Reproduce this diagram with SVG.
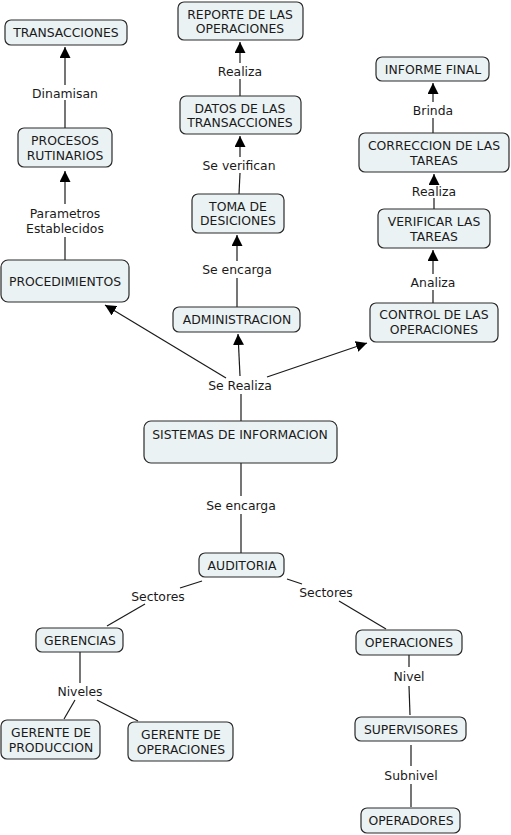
<svg xmlns="http://www.w3.org/2000/svg" width="511" height="835" viewBox="0 0 511 835">
<style>
.n rect{fill:#ebf2f4;stroke:#2a2a2a;stroke-width:1.2}
text{font-family:"DejaVu Sans",Verdana,sans-serif;font-size:12.4px;fill:#1a1a1a;text-anchor:middle;dominant-baseline:central}
.c line{stroke:#1a1a1a;stroke-width:1.2}
.a{marker-end:url(#ah)}
</style>
<defs>
<marker id="ah" markerUnits="userSpaceOnUse" markerWidth="11" markerHeight="11" viewBox="0 0 11 11" refX="11" refY="5.5" orient="auto">
<path d="M0,0 L11,5.5 L0,11 Z" fill="#000"/>
</marker>
</defs>
<rect width="511" height="835" fill="#fff"/>
<g class="c">
<line x1="65" y1="128" x2="65" y2="100"/>
<line class="a" x1="65" y1="85" x2="65" y2="47"/>
<line x1="65" y1="260" x2="65" y2="237"/>
<line class="a" x1="65" y1="204" x2="65" y2="171"/>
<line x1="240" y1="96" x2="240" y2="79"/>
<line class="a" x1="240" y1="63" x2="240" y2="42"/>
<line x1="239" y1="194" x2="240" y2="173"/>
<line class="a" x1="240" y1="157" x2="240" y2="136"/>
<line x1="237" y1="307" x2="237" y2="278"/>
<line class="a" x1="237" y1="261" x2="237" y2="235"/>
<line x1="241" y1="421" x2="241" y2="394"/>
<line class="a" x1="226" y1="378" x2="105" y2="305"/>
<line class="a" x1="240" y1="376" x2="238" y2="334"/>
<line class="a" x1="267" y1="377" x2="367" y2="343"/>
<line x1="433" y1="303" x2="433" y2="290"/>
<line class="a" x1="433" y1="274" x2="433" y2="250"/>
<line x1="434" y1="209" x2="434" y2="198"/>
<line class="a" x1="434" y1="184" x2="434" y2="174"/>
<line x1="433" y1="133" x2="433" y2="118"/>
<line class="a" x1="433" y1="102" x2="433" y2="83"/>
<line x1="241" y1="463" x2="241" y2="496"/>
<line x1="241" y1="514" x2="241" y2="553"/>
<line x1="202" y1="581" x2="180" y2="588"/>
<line x1="145" y1="604" x2="107" y2="626"/>
<line x1="287" y1="579" x2="302" y2="584"/>
<line x1="339" y1="601" x2="386" y2="629"/>
<line x1="80" y1="652" x2="80" y2="683"/>
<line x1="75" y1="700" x2="64" y2="719"/>
<line x1="97" y1="700" x2="138" y2="721"/>
<line x1="409" y1="655" x2="409" y2="667"/>
<line x1="409" y1="686" x2="410" y2="715"/>
<line x1="411" y1="745" x2="411" y2="766"/>
<line x1="411" y1="784" x2="411" y2="807"/>
</g>
<g id="labels">
<text x="65" y="93">Dinamisan</text>
<text x="65" y="213">Parametros</text>
<text x="65" y="228">Establecidos</text>
<text x="240" y="71">Realiza</text>
<text x="239" y="165">Se verifican</text>
<text x="237" y="269">Se encarga</text>
<text x="240" y="385">Se Realiza</text>
<text x="241" y="505">Se encarga</text>
<text x="433" y="110">Brinda</text>
<text x="434" y="191">Realiza</text>
<text x="433" y="282">Analiza</text>
<text x="158" y="596">Sectores</text>
<text x="326" y="592">Sectores</text>
<text x="80" y="691">Niveles</text>
<text x="409" y="676">Nivel</text>
<text x="411" y="775">Subnivel</text>
</g>
<g id="transacciones" class="n"><rect x="5" y="20" width="122" height="25" rx="6"/><text x="66" y="32.5">TRANSACCIONES</text></g>
<g id="procesos" class="n"><rect x="18" y="128" width="94" height="39" rx="6"/><text x="65" y="140">PROCESOS</text><text x="65" y="155">RUTINARIOS</text></g>
<g id="procedimientos" class="n"><rect x="1" y="260" width="128" height="42" rx="7"/><text x="65" y="281">PROCEDIMIENTOS</text></g>
<g id="reporte" class="n"><rect x="178" y="2" width="125" height="38" rx="6"/><text x="240" y="14">REPORTE DE LAS</text><text x="240" y="28">OPERACIONES</text></g>
<g id="datos" class="n"><rect x="180" y="96" width="121" height="38" rx="6"/><text x="240" y="108">DATOS DE LAS</text><text x="240" y="122">TRANSACCIONES</text></g>
<g id="toma" class="n"><rect x="192" y="194" width="92" height="39" rx="6"/><text x="238" y="206">TOMA DE</text><text x="238" y="220">DESICIONES</text></g>
<g id="administracion" class="n"><rect x="173" y="307" width="127" height="25" rx="6"/><text x="237" y="319.5">ADMINISTRACION</text></g>
<g id="sistemas" class="n"><rect x="144" y="421" width="193" height="42" rx="7"/><text x="240" y="434">SISTEMAS DE INFORMACION</text></g>
<g id="informe" class="n"><rect x="376" y="57" width="113" height="24" rx="6"/><text x="433" y="69">INFORME FINAL</text></g>
<g id="correccion" class="n"><rect x="359" y="133" width="150" height="39" rx="6"/><text x="434" y="145">CORRECCION DE LAS</text><text x="434" y="160">TAREAS</text></g>
<g id="verificar" class="n"><rect x="378" y="209" width="112" height="39" rx="6"/><text x="434" y="221">VERIFICAR LAS</text><text x="434" y="236">TAREAS</text></g>
<g id="control" class="n"><rect x="370" y="303" width="128" height="39" rx="6"/><text x="434" y="314">CONTROL DE LAS</text><text x="434" y="329">OPERACIONES</text></g>
<g id="auditoria" class="n"><rect x="199" y="553" width="85" height="24" rx="6"/><text x="242" y="565">AUDITORIA</text></g>
<g id="gerencias" class="n"><rect x="36" y="628" width="87" height="24" rx="6"/><text x="80" y="640">GERENCIAS</text></g>
<g id="operaciones" class="n"><rect x="356" y="630" width="106" height="25" rx="6"/><text x="409" y="642.5">OPERACIONES</text></g>
<g id="gerente-produccion" class="n"><rect x="1" y="720" width="99" height="39" rx="6"/><text x="51" y="732">GERENTE DE</text><text x="51" y="747">PRODUCCION</text></g>
<g id="gerente-operaciones" class="n"><rect x="128" y="722" width="105" height="39" rx="6"/><text x="181" y="734">GERENTE DE</text><text x="181" y="749">OPERACIONES</text></g>
<g id="supervisores" class="n"><rect x="355" y="717" width="111" height="24" rx="6"/><text x="411" y="729">SUPERVISORES</text></g>
<g id="operadores" class="n"><rect x="361" y="808" width="99" height="25" rx="6"/><text x="411" y="820.5">OPERADORES</text></g>
</svg>
